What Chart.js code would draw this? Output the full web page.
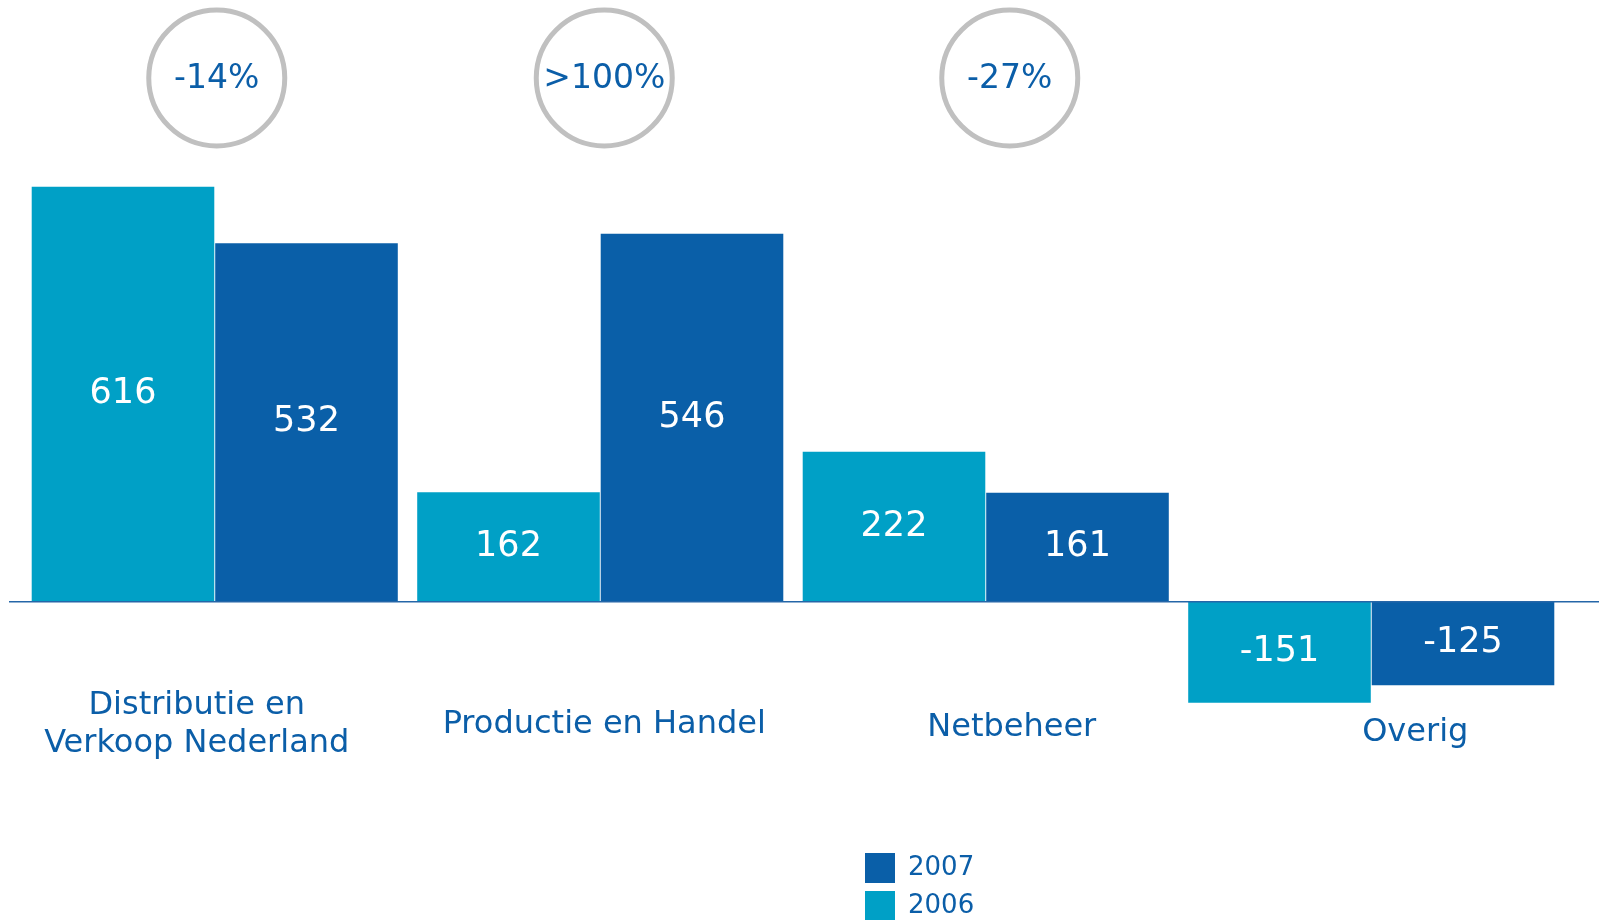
<!DOCTYPE html>
<html>
<head>
<meta charset="utf-8">
<script src="https://cdn.jsdelivr.net/npm/chart.js@4"></script>
<style>
  html, body { margin: 0; padding: 0; background: #fff; }
  #wrap { width: 1599px; height: 920px; position: relative; }
</style>
</head>
<body>
<div id="wrap"><canvas id="chart"></canvas></div>
<script>
// --- data ---
const categories = [['Distributie en', 'Verkoop Nederland'], 'Productie en Handel', 'Netbeheer', 'Overig'];
const values2006 = [616, 162, 222, -151];
const values2007 = [532, 546, 161, -125];
const changeLabels = ['-14%', '>100%', '-27%', null];
const seriesNames = ['2006', '2007'];

const LIGHT = '#00a0c6';
const DARK = '#0a5fa8';
const TEXT_BLUE = '#0b5ea8';

Chart.defaults.font.family = "'DejaVu Sans', Verdana, sans-serif";

// small horizontal nudges for the free-floating text (as in the source slide)
const LABEL_NUDGE = [-18, 4, 26, 44];
const CIRCLE_NUDGE = [2, 4, 24, 0];

// values written inside each bar
const barValues = {
    id: 'barValues',
    afterDatasetsDraw(chart) {
        const ctx = chart.ctx;
        ctx.save();
        ctx.fillStyle = '#fff';
        ctx.font = "35px 'DejaVu Sans'";
        ctx.textAlign = 'center';
        ctx.textBaseline = 'middle';
        chart.data.datasets.forEach((ds, i) => {
            chart.getDatasetMeta(i).data.forEach((bar, j) => {
                const mid = (bar.y + bar.base) / 2;
                ctx.fillText(String(ds.data[j]), bar.x, mid);
            });
        });
        ctx.restore();
    }
};

// zero line, category labels, change circles, legend
const decorations = {
    id: 'decorations',
    afterDatasetsDraw(chart) {
        const ctx = chart.ctx;
        const x = chart.scales.x;
        const y = chart.scales.y;
        const zeroY = y.getPixelForValue(0);
        ctx.save();

        // baseline
        ctx.strokeStyle = '#2566a8';
        ctx.lineWidth = 1.5;
        ctx.beginPath();
        ctx.moveTo(9, zeroY + 0.5);
        ctx.lineTo(chart.width, zeroY + 0.5);
        ctx.stroke();

        // category labels
        ctx.fillStyle = TEXT_BLUE;
        ctx.font = "32px 'DejaVu Sans'";
        ctx.textAlign = 'center';
        ctx.textBaseline = 'middle';
        categories.forEach((c, i) => {
            const cx = x.getPixelForValue(i) + LABEL_NUDGE[i];
            const lines = Array.isArray(c) ? c : [c];
            const lh = 38;
            const cy = zeroY + 124 + (i === 3 ? 8 : i === 2 ? 3 : 0);
            lines.forEach((t, k) => {
                ctx.fillText(t, cx, cy + (k - (lines.length - 1) / 2) * lh);
            });
        });

        // change circles
        changeLabels.forEach((t, i) => {
            if (!t) return;
            const cx = x.getPixelForValue(i) + CIRCLE_NUDGE[i];
            const cy = 78;
            ctx.beginPath();
            ctx.arc(cx, cy, 68, 0, Math.PI * 2);
            ctx.strokeStyle = '#c0c0c0';
            ctx.lineWidth = 5;
            ctx.stroke();
            ctx.fillStyle = TEXT_BLUE;
            ctx.font = "33px 'DejaVu Sans'";
            ctx.fillText(t, cx, cy + 1);
        });

        // legend (2007 on top)
        const order = [1, 0];
        ctx.textAlign = 'left';
        ctx.font = "26px 'DejaVu Sans'";
        order.forEach((di, k) => {
            const ds = chart.data.datasets[di];
            const top = 853 + k * 38;
            ctx.fillStyle = ds.backgroundColor;
            ctx.fillRect(865, top, 30, 30);
            ctx.fillStyle = TEXT_BLUE;
            ctx.fillText(ds.label, 908, top + 15);
        });

        ctx.restore();
    }
};

new Chart(document.getElementById('chart'), {
    type: 'bar',
    data: {
        labels: categories,
        datasets: [
            { label: seriesNames[0], data: values2006, backgroundColor: LIGHT },
            { label: seriesNames[1], data: values2007, backgroundColor: DARK }
        ]
    },
    options: {
        responsive: true,
        maintainAspectRatio: false,
        devicePixelRatio: 1,
        animation: false,
        layout: { padding: { left: 22, right: 35, top: 63, bottom: 117 } },
        datasets: {
            bar: { categoryPercentage: 0.952, barPercentage: 0.995, borderWidth: 0 }
        },
        plugins: {
            legend: { display: false },
            tooltip: { enabled: false }
        },
        scales: {
            x: { display: false, grid: { display: false } },
            y: { display: false, min: -300, max: 800, grid: { display: false } }
        }
    },
    plugins: [barValues, decorations]
});
</script>
</body>
</html>
